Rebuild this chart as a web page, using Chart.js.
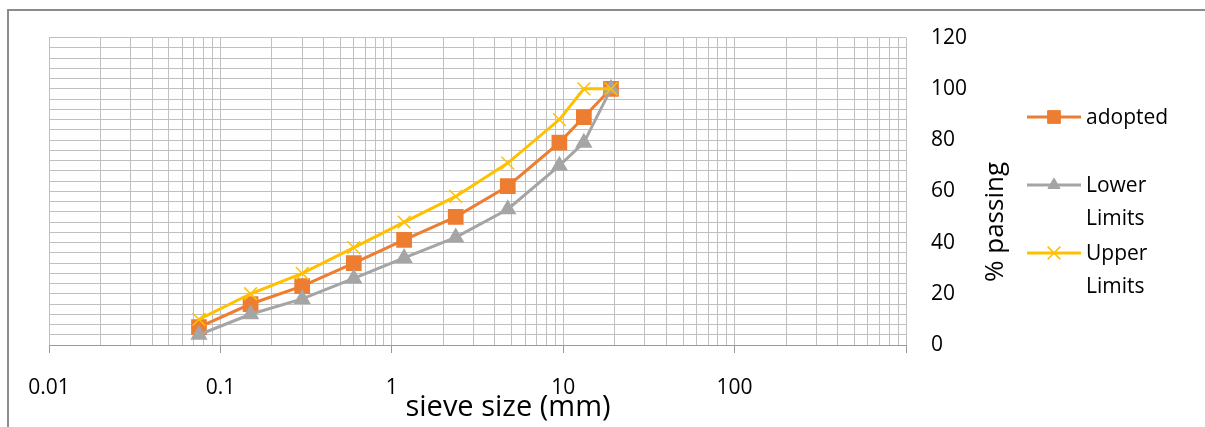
<!DOCTYPE html>
<html>
<head>
<meta charset="utf-8">
<script src="https://cdn.jsdelivr.net/npm/chart.js@4/dist/chart.umd.min.js"></script>
<style>
html,body{margin:0;padding:0;background:#fff;}
#wrap{position:relative;width:1205px;height:427px;}
</style>
</head>
<body>
<div id="wrap"><canvas id="c" width="1205" height="427"></canvas></div>
<script>
// ---- data ----
const sieveSizes = [0.075, 0.15, 0.3, 0.6, 1.18, 2.36, 4.75, 9.5, 13.2, 19];
const adopted    = [7, 16, 23, 32, 41, 50, 62, 79, 89, 100];
const lowerLimits = [4, 12, 18, 26, 34, 42, 53, 70, 79, 100];
const upperLimits = [10, 20, 28, 38, 48, 58, 71, 88, 100, 100];
const xMajorTicks = [0.01, 0.1, 1, 10, 100, 1000];
const xTickLabels = ['0.01', '0.1', '1', '10', '100', ''];
const yTickLabels = [0, 20, 40, 60, 80, 100, 120];
const seriesNames = ['adopted', 'Lower Limits', 'Upper Limits'];

const FONT = '"Open Sans", Lato, sans-serif';
const toXY = (vals) => sieveSizes.map((s, i) => ({x: s, y: vals[i]}));

const xAllTicks = [];
for (let d = 0; d < xMajorTicks.length - 1; d++) {
  for (let k = 1; k <= 9; k++) xAllTicks.push(+(xMajorTicks[d] * k).toPrecision(6));
}
xAllTicks.push(xMajorTicks[xMajorTicks.length - 1]);
const isMajorX = (v) => xMajorTicks.some(m => Math.abs(m - v) / m < 1e-6);

function drawMarker(ctx, style, radius, x, y) {
  Chart.helpers.drawPoint(ctx, {pointStyle: style, radius: radius, rotation: 0, borderWidth: 1}, x, y);
}

const decor = {
  id: 'decor',
  beforeDraw(chart) {
    const ctx = chart.ctx;
    ctx.save();
    ctx.strokeStyle = '#8c8c8c';
    ctx.lineWidth = 2;
    ctx.beginPath();
    ctx.moveTo(1300, 10);
    ctx.lineTo(8, 10);
    ctx.lineTo(8, 500);
    ctx.stroke();
    ctx.restore();
  },
  afterDraw(chart) {
    const ctx = chart.ctx;
    ctx.save();
    ctx.fillStyle = '#000';
    ctx.font = '29px ' + FONT;
    ctx.textAlign = 'center';
    ctx.textBaseline = 'middle';
    ctx.fillText('sieve size (mm)', 508, 408);
    ctx.save();
    ctx.translate(996, 222);
    ctx.rotate(-Math.PI / 2);
    ctx.font = '26px ' + FONT;
    ctx.fillText('% passing', 0, 0);
    ctx.restore();
    const ds = chart.data.datasets;
    const rows = [
      {i: 0, y: 117, lines: ['adopted']},
      {i: 1, y: 185, lines: ['Lower', 'Limits']},
      {i: 2, y: 253, lines: ['Upper', 'Limits']}
    ];
    ctx.font = '21px ' + FONT;
    ctx.textAlign = 'left';
    rows.forEach(r => {
      const d = ds[r.i];
      ctx.strokeStyle = d.borderColor;
      ctx.lineWidth = 3;
      ctx.beginPath();
      ctx.moveTo(1027, r.y);
      ctx.lineTo(1081, r.y);
      ctx.stroke();
      ctx.fillStyle = d.pointBackgroundColor;
      ctx.strokeStyle = d.pointBorderColor;
      ctx.lineWidth = d.pointBorderWidth || 1;
      drawMarker(ctx, d.pointStyle, d.pointRadius, 1054, r.y);
      ctx.fillStyle = '#000';
      r.lines.forEach((t, j) => ctx.fillText(t, 1086, r.y + 1 + j * 33));
    });
    ctx.restore();
  }
};

new Chart(document.getElementById('c'), {
  type: 'line',
  data: {
    datasets: [
      {
        label: seriesNames[0], data: toXY(adopted),
        borderColor: '#ED7D31', backgroundColor: '#ED7D31',
        pointBackgroundColor: '#ED7D31', pointBorderColor: '#ED7D31',
        pointStyle: 'rect', pointRadius: 9, borderWidth: 3, order: 2
      },
      {
        label: seriesNames[1], data: toXY(lowerLimits),
        borderColor: '#A5A5A5', backgroundColor: '#A5A5A5',
        pointBackgroundColor: '#A5A5A5', pointBorderColor: '#A5A5A5',
        pointStyle: 'triangle', pointRadius: 7, borderWidth: 3, order: 1
      },
      {
        label: seriesNames[2], data: toXY(upperLimits),
        borderColor: '#FFC000', backgroundColor: '#FFC000',
        pointBackgroundColor: '#FFC000', pointBorderColor: '#FFC000',
        pointStyle: 'crossRot', pointRadius: 9, pointBorderWidth: 1.5, borderWidth: 3, order: 0
      }
    ]
  },
  options: {
    responsive: false,
    animation: false,
    layout: {padding: {left: 49, top: 35, right: 0, bottom: 0}},
    plugins: {legend: {display: false}, tooltip: {enabled: false}},
    scales: {
      x: {
        type: 'logarithmic', min: 0.01, max: 1000,
        afterBuildTicks(scale) { scale.ticks = xAllTicks.map(v => ({value: v})); },
        afterFit(scale) { scale.height = 82; },
        grid: {
          color: '#C0C0C0', lineWidth: 1, drawTicks: true, tickLength: 8,
          tickColor: (c) => (c.tick && isMajorX(c.tick.value)) ? '#9a9a9a' : 'rgba(0,0,0,0)'
        },
        border: {color: '#9a9a9a', width: 1},
        ticks: {
          autoSkip: false, maxRotation: 0, padding: 22,
          color: '#000', font: {family: FONT, size: 21},
          callback: (v) => {
            const i = xMajorTicks.findIndex(m => Math.abs(m - v) / m < 1e-6);
            return i >= 0 ? xTickLabels[i] : '';
          }
        }
      },
      y: {
        position: 'right', min: 0, max: 120,
        afterBuildTicks(scale) {
          const t = [];
          for (let v = 0; v <= 120; v += 4) t.push({value: v});
          scale.ticks = t;
        },
        afterFit(scale) { scale.width = 299; },
        grid: {color: '#C0C0C0', lineWidth: 1, drawTicks: false},
        border: {display: false},
        ticks: {
          autoSkip: false, padding: 25, color: '#000', font: {family: FONT, size: 21},
          callback: (v) => yTickLabels.includes(v) ? String(v) : ''
        }
      }
    }
  },
  plugins: [decor]
});
</script>
</body>
</html>
